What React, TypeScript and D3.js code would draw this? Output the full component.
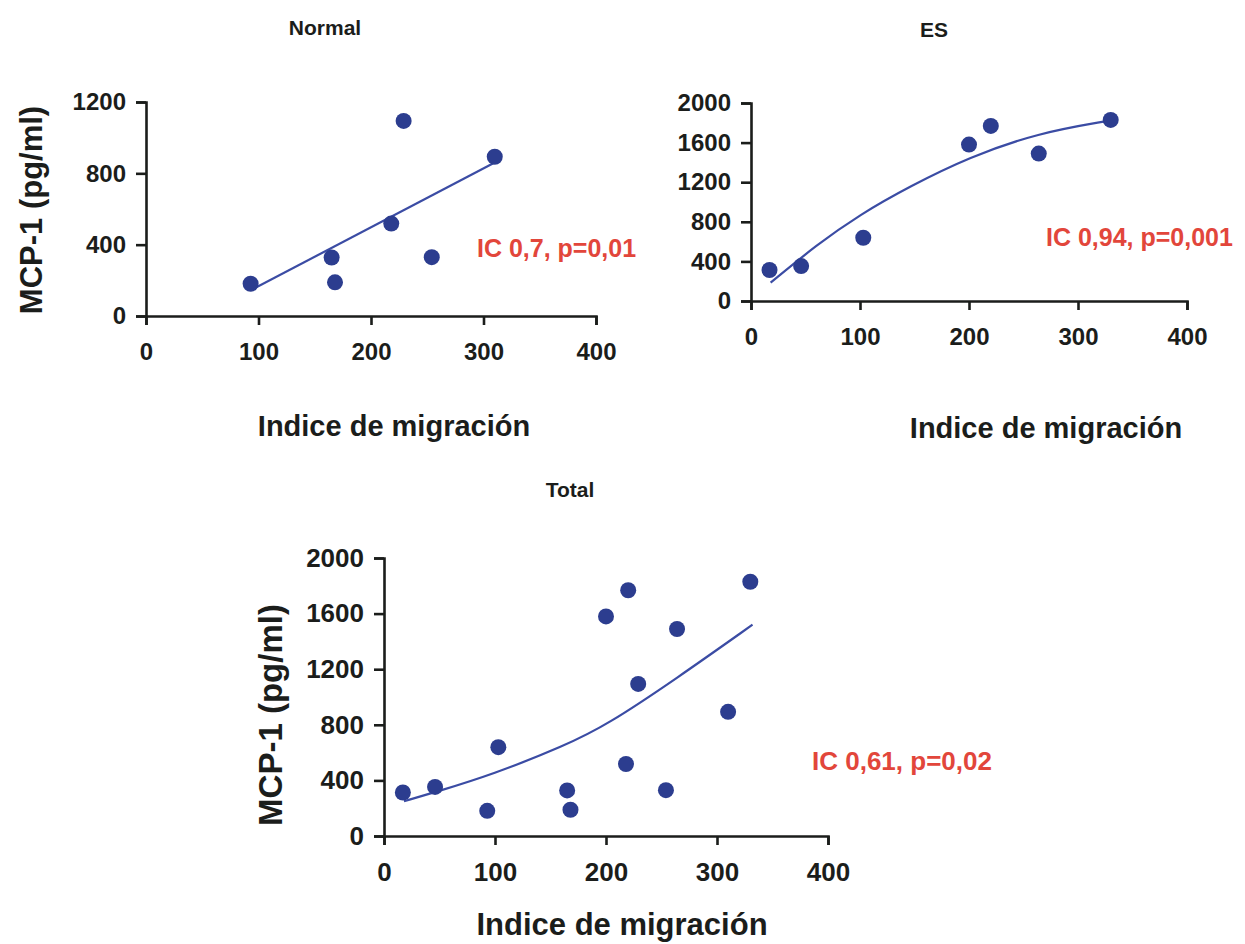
import React, { useEffect, useRef } from 'react';
import * as d3 from 'd3';

// indice de migración vs MCP-1 (pg/ml)
const normalX = [93, 165, 168, 218, 229, 254, 310];
const normalY = [181, 328, 189, 518, 1094, 330, 893];
const esX = [17, 46, 103, 200, 220, 264, 330];
const esY = [313, 353, 639, 1580, 1768, 1489, 1829];

// trend lines
const normalTrendX = [93, 310];
const normalTrendY = [144, 861];
const esTrendX = [18, 60, 100, 146, 200, 263, 329];
const esTrendY = [185, 565, 874, 1160, 1452, 1697, 1822];
const totalTrendX = [18, 48, 97, 163, 201, 263, 332];
const totalTrendY = [250, 320, 440, 650, 800, 1130, 1520];

const xTicks = [0, 100, 200, 300, 400];
const yTicksNormal = [0, 400, 800, 1200];
const yTicksES = [0, 400, 800, 1200, 1600, 2000];

const xLabel = 'Indice de migración';
const yLabel = 'MCP-1 (pg/ml)';

const width = 1245;
const height = 944;
const dotColor = '#2c3d8f';
const lineColor = '#3b4ca4';
const red = '#e2463b';
const ink = '#1b1d1b';

const App = () => {
    const svgRef = useRef(null);

    useEffect(() => {
        const svg = d3.select(svgRef.current);
        svg.selectAll('*').remove();

        const zip = (xs, ys) => xs.map((x, i) => ({ x: x, y: ys[i] }));

        const panels = [
            {
                title: 'Normal', titleX: 325, titleY: 35,
                xr: [146, 596], yr: [316, 102], yMax: 1200, yTicks: yTicksNormal,
                pts: zip(normalX, normalY), trend: zip(normalTrendX, normalTrendY),
                note: 'IC 0,7, p=0,01', noteX: 477, noteY: 257,
                xLab: [394, 436], yLab: [31, 210],
                tickFont: 24, labFont: 29, yLabFont: 31, noteFont: 25
            },
            {
                title: 'ES', titleX: 934, titleY: 37,
                xr: [751, 1187], yr: [301, 103], yMax: 2000, yTicks: yTicksES,
                pts: zip(esX, esY), trend: zip(esTrendX, esTrendY),
                note: 'IC 0,94, p=0,001', noteX: 1046, noteY: 246,
                xLab: [1046, 438], yLab: null,
                tickFont: 24, labFont: 29, yLabFont: 31, noteFont: 25
            },
            {
                title: 'Total', titleX: 570, titleY: 497,
                xr: [384, 828], yr: [836, 558], yMax: 2000, yTicks: yTicksES,
                pts: zip(normalX.concat(esX), normalY.concat(esY)), trend: zip(totalTrendX, totalTrendY),
                note: 'IC 0,61, p=0,02', noteX: 812, noteY: 770,
                xLab: [622, 935], yLab: [270, 715],
                tickFont: 26, labFont: 31, yLabFont: 33, noteFont: 26
            }
        ];

        panels.forEach(p => {
            const x = d3.scaleLinear().domain([0, 400]).range(p.xr);
            const y = d3.scaleLinear().domain([0, p.yMax]).range(p.yr);
            const g = svg.append('g');

            g.append('text')
                .attr('x', p.titleX).attr('y', p.titleY)
                .attr('text-anchor', 'middle')
                .style('font-family', '"Liberation Sans Narrow", "Liberation Sans", Arial, sans-serif')
                .style('font-weight', 'bold').style('font-size', '21px')
                .attr('fill', ink)
                .text(p.title);

            const xAxis = d3.axisBottom(x).tickValues(xTicks).tickFormat(d3.format('d'))
                .tickSize(9).tickSizeOuter(9).tickPadding(18);
            const yAxis = d3.axisLeft(y).tickValues(p.yTicks).tickFormat(d3.format('d'))
                .tickSize(10).tickSizeOuter(10).tickPadding(10);

            const ax = g.append('g').attr('transform', 'translate(0,' + p.yr[0] + ')').call(xAxis);
            const ay = g.append('g').attr('transform', 'translate(' + p.xr[0] + ',0)').call(yAxis);

            [ax, ay].forEach(a => {
                a.selectAll('path, line').attr('stroke', ink).attr('stroke-width', 2.6);
                a.selectAll('text')
                    .attr('fill', ink)
                    .style('font-family', '"Liberation Sans", Arial, sans-serif')
                    .style('font-weight', 'bold')
                    .style('font-size', p.tickFont + 'px');
            });

            g.append('text')
                .attr('x', p.xLab[0]).attr('y', p.xLab[1])
                .attr('text-anchor', 'middle')
                .style('font-family', '"Liberation Sans", Arial, sans-serif')
                .style('font-weight', 'bold').style('font-size', p.labFont + 'px')
                .attr('fill', ink)
                .text(xLabel);

            if (p.yLab) {
                g.append('text')
                    .attr('transform', 'translate(' + p.yLab[0] + ',' + p.yLab[1] + ') rotate(-90)')
                    .attr('text-anchor', 'middle')
                    .attr('dy', '0.35em')
                    .style('font-family', '"Liberation Sans", Arial, sans-serif')
                    .style('font-weight', 'bold').style('font-size', p.yLabFont + 'px')
                    .attr('fill', ink)
                    .text(yLabel);
            }

            const line = d3.line()
                .x(d => x(d.x))
                .y(d => y(d.y))
                .curve(d3.curveBasis);

            g.append('path')
                .datum(p.trend)
                .attr('d', line)
                .attr('fill', 'none')
                .attr('stroke', lineColor)
                .attr('stroke-width', 2.2);

            g.selectAll('circle.dot')
                .data(p.pts)
                .enter()
                .append('circle')
                .attr('class', 'dot')
                .attr('cx', d => x(d.x))
                .attr('cy', d => y(d.y))
                .attr('r', 8)
                .attr('fill', dotColor);

            g.append('text')
                .attr('x', p.noteX).attr('y', p.noteY)
                .style('font-family', '"Liberation Sans", Arial, sans-serif')
                .style('font-weight', 'bold').style('font-size', p.noteFont + 'px')
                .attr('fill', red)
                .text(p.note);
        });
    }, []);

    return (
        <svg ref={svgRef} width={width} height={height}
             style={{ position: 'absolute', left: 0, top: 0, background: 'white' }}></svg>
    );
};

export default App;
